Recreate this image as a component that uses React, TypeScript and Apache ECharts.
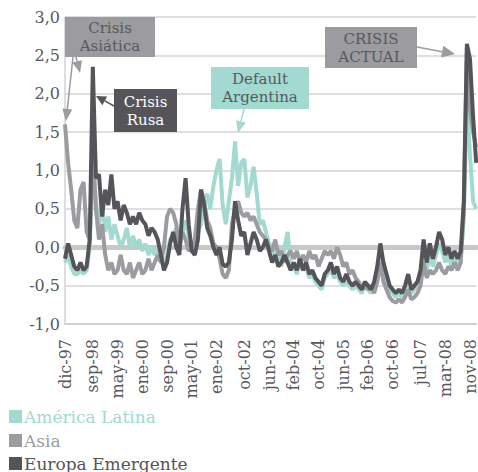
import React, { useEffect, useRef } from "react";
import * as echarts from "echarts";

const MONTHS = ["ene", "feb", "mar", "abr", "may", "jun", "jul", "ago", "sep", "oct", "nov", "dic"];
// monthly categories from dic-97 to ene-09
const categories: string[] = [];
for (let i = 0; i < 134; i++) {
  const mi = (11 + i) % 12;
  const yr = 1997 + Math.floor((11 + i) / 12);
  categories.push(MONTHS[mi] + "-" + String(yr % 100).padStart(2, "0"));
}
const tickLabels = [
  "dic-97", "sep-98", "may-99", "ene-00", "sep-00", "may-01", "ene-02", "oct-02", "jun-03",
  "feb-04", "oct-04", "jun-05", "feb-06", "oct-06", "jul-07", "mar-08", "nov-08",
];
const yTicks = [-1, -0.5, 0, 0.5, 1, 1.5, 2, 2.5, 3];
const seriesNames = ["América Latina", "Asia", "Europa Emergente"];

const americaLatina = [
  -0.2, -0.1, -0.25, -0.35, -0.35, -0.3, -0.35, -0.3, 0.0, 1.1,
  0.6, 0.3, 0.55, 0.2, 0.4, 0.1, 0.3, 0.15, 0.0, 0.1,
  0.25, 0.0, 0.15, 0.0, 0.1, -0.05, 0.05, -0.1, 0.0, -0.1,
  0.0, -0.15, -0.25, -0.1, 0.1, 0.15, 0.25, 0.1, 0.2, 0.35,
  0.15, 0.0, 0.05, 0.2, 0.3, 0.55, 0.7, 0.5, 0.8, 1.0,
  1.15, 0.55, 0.3, 0.6, 0.9, 1.38, 0.8, 1.1, 1.15, 0.65,
  0.8, 1.05, 0.7, 0.3, 0.35, 0.2, 0.05, 0.0, -0.15, -0.1,
  -0.25, 0.0, 0.2, -0.2, -0.25, -0.35, -0.2, -0.3, -0.25, -0.4,
  -0.35, -0.45, -0.5, -0.55, -0.4, -0.35, -0.3, -0.4, -0.35, -0.45,
  -0.5, -0.45, -0.5, -0.55, -0.5, -0.55, -0.6, -0.5, -0.55, -0.6,
  -0.5, -0.35, -0.05, -0.3, -0.45, -0.55, -0.6, -0.65, -0.6, -0.65,
  -0.55, -0.45, -0.6, -0.55, -0.5, -0.4, 0.0, -0.3, -0.1, -0.25,
  -0.1, 0.05, -0.05, -0.2, -0.1, -0.25, -0.15, -0.25, -0.15, 0.4,
  2.0, 1.2, 0.6, 0.5,
];

const asia = [
  1.6, 1.1, 0.75, 0.35, 0.25, 0.75, 0.85, 0.2, 0.1, 1.3,
  0.5, 0.1, 0.3, -0.1, -0.3, -0.2, -0.35, -0.3, -0.1, -0.3,
  -0.35, -0.2, -0.4, -0.3, -0.2, -0.35, -0.3, -0.15, -0.3, -0.2,
  -0.1, -0.2, 0.0, 0.4, 0.5, 0.45, 0.3, 0.0, 0.2, 0.1,
  -0.05, 0.0, 0.1, 0.5, 0.75, 0.6, 0.35, 0.25, 0.05, 0.0,
  -0.15, -0.35, -0.4, -0.3, 0.3, 0.5, 0.6, 0.45, 0.4, 0.45,
  0.35, 0.4, 0.3, 0.2, 0.15, 0.1, 0.0, -0.05, 0.1, -0.1,
  -0.05, -0.2, -0.1, -0.05, -0.15, -0.05, -0.2, -0.1, -0.2, -0.05,
  -0.15, -0.1, -0.25, -0.15, -0.05, -0.1, -0.05, -0.15, 0.0, -0.1,
  -0.25, -0.2, -0.35, -0.3, -0.4, -0.45, -0.55, -0.5, -0.55, -0.5,
  -0.6, -0.45, -0.2, -0.45, -0.55, -0.65, -0.7, -0.72, -0.68, -0.72,
  -0.65, -0.55, -0.68, -0.65, -0.6, -0.5, -0.2, -0.4, -0.3, -0.35,
  -0.3, -0.2, -0.3, -0.35, -0.25, -0.3, -0.2, -0.3, -0.2, 0.5,
  2.6, 1.8, 1.5, 1.3,
];

const europaEmergente = [
  -0.15, 0.05, -0.1, -0.25, -0.3, -0.2, -0.3, -0.25, 0.1, 2.35,
  0.9, 0.95, 0.4, 0.75, 0.55, 0.95, 0.5, 0.6, 0.35, 0.55,
  0.45, 0.3, 0.4, 0.3, 0.45, 0.35, 0.3, 0.15, 0.25, 0.2,
  0.1, -0.1, -0.3, -0.2, 0.05, 0.2, 0.0, -0.1, 0.5, 0.9,
  0.3, -0.05, -0.1, 0.1, 0.75, 0.55, 0.25, 0.15, 0.0, -0.1,
  0.0, -0.22, -0.25, -0.2, 0.1, 0.6, 0.35, 0.15, 0.2, -0.1,
  0.05, 0.2, 0.1, -0.05, 0.0, 0.1, -0.05, -0.2, -0.1, -0.25,
  -0.2, -0.1, -0.2, -0.3, -0.2, -0.3, -0.15, -0.3, -0.2, -0.35,
  -0.3, -0.4, -0.45, -0.5, -0.35, -0.3, -0.2, -0.35, -0.25, -0.4,
  -0.45, -0.35, -0.45, -0.5, -0.45, -0.5, -0.55, -0.45, -0.5, -0.55,
  -0.45, -0.25, 0.05, -0.2, -0.35, -0.5, -0.55, -0.6, -0.55, -0.6,
  -0.5, -0.35, -0.55, -0.5, -0.45, -0.3, 0.1, -0.2, 0.05, -0.15,
  0.0, 0.2, 0.1, -0.1, 0.0, -0.15, -0.05, -0.15, -0.05, 0.6,
  2.65, 2.45, 1.7, 1.1,
];

const TEAL = "#a2d9d1";
const GRAY = "#9b9ba0";
const DARK = "#555559";
const TEXT = "#58585c";
const FONT = "'DejaVu Serif', 'Liberation Serif', serif";
const colors = [TEAL, GRAY, DARK];

function arrow(x1: number, y1: number, x2: number, y2: number, color: string, len = 12, half = 5) {
  const dx = x2 - x1, dy = y2 - y1;
  const d = Math.sqrt(dx * dx + dy * dy);
  const ux = dx / d, uy = dy / d;
  const bx = x2 - ux * len, by = y2 - uy * len;
  const px = -uy * half, py = ux * half;
  return [
    { type: "line", shape: { x1, y1, x2: bx, y2: by }, style: { stroke: color, lineWidth: 1.5 }, z: 10 },
    { type: "polygon", shape: { points: [[x2, y2], [bx + px, by + py], [bx - px, by - py]] }, style: { fill: color }, z: 10 },
  ];
}

function box(x: number, y: number, w: number, h: number, fill: string, color: string, lines: string[]) {
  const lh = 18;
  const y0 = y + h / 2 - ((lines.length - 1) * lh) / 2;
  return [
    { type: "rect", shape: { x, y, width: w, height: h }, style: { fill }, z: 10 },
    ...lines.map((t, i) => ({
      type: "text", x: x + w / 2, y: y0 + i * lh, z: 11,
      style: { text: t, fill: color, font: `15px ${FONT}`, align: "center", verticalAlign: "middle" },
    })),
  ];
}

export default function App() {
  const ref = useRef<HTMLDivElement>(null);
  useEffect(() => {
    document.body.style.margin = "0";
    const chart = echarts.init(ref.current!, null, { renderer: "svg" });
    const labelIdx = tickLabels.map((t) => categories.indexOf(t));
    const legendTops = [408, 432, 455];
    chart.setOption({
      animation: false,
      grid: { left: 65, right: 0, top: 17, bottom: 148 },
      legend: seriesNames.map((n, i) => ({
        left: 9, top: legendTops[i], padding: 0, icon: "rect", itemWidth: 13, itemHeight: 13, itemGap: 0,
        textStyle: { fontFamily: FONT, fontSize: 17, color: colors[i], padding: [0, 0, 0, -3] },
        data: [n],
      })),
      xAxis: [
        {
          type: "category", data: categories, boundaryGap: false,
          axisLine: { onZero: false, lineStyle: { color: "#cfcfcf", width: 2 } },
          axisTick: { show: false },
          axisLabel: {
            rotate: 90, margin: 15, color: TEXT, fontFamily: FONT, fontSize: 16,
            interval: (i: number) => labelIdx.includes(i),
          },
        },
        {
          type: "category", data: categories, boundaryGap: false, position: "bottom",
          axisLine: { show: true, onZero: true, lineStyle: { color: "#c8c8c8", width: 5 } },
          axisTick: { show: false }, axisLabel: { show: false }, splitLine: { show: false },
        },
      ],
      yAxis: {
        type: "value", min: yTicks[0], max: yTicks[yTicks.length - 1], interval: 0.5,
        axisLine: { show: true, lineStyle: { color: "#d3d3d3", width: 1.5 } },
        axisTick: { show: false },
        axisLabel: {
          color: TEXT, fontFamily: FONT, fontSize: 16, margin: 5,
          formatter: (v: number) => v.toFixed(1).replace(".", ","),
        },
        splitLine: { lineStyle: { color: "#d5d5d5", width: 1.5 } },
      },
      series: [
        { name: seriesNames[0], type: "line", data: americaLatina, showSymbol: false, color: TEAL, lineStyle: { width: 4, color: TEAL } },
        { name: seriesNames[1], type: "line", data: asia, showSymbol: false, color: GRAY, lineStyle: { width: 4, color: GRAY } },
        { name: seriesNames[2], type: "line", data: europaEmergente, showSymbol: false, color: DARK, lineStyle: { width: 4, color: DARK } },
      ],
      graphic: [
        ...box(65, 17, 90, 40, GRAY, TEXT, ["Crisis", "Asiática"]),
        ...arrow(73, 57, 66, 121, GRAY, 12, 5),
        ...arrow(76, 57, 80, 73, GRAY, 12, 5),
        ...box(114, 89, 63, 43, DARK, "#ffffff", ["Crisis", "Rusa"]),
        ...arrow(114, 106, 96, 96, DARK, 10, 5),
        ...box(211, 67, 98, 42, TEAL, TEXT, ["Default", "Argentina"]),
        ...arrow(244, 109, 238, 133, TEAL, 12, 5),
        ...box(325, 27, 92, 41, GRAY, TEXT, ["CRISIS", "ACTUAL"]),
        ...arrow(417, 47, 455, 54, GRAY, 13, 6),
      ],
    });
    return () => chart.dispose();
  }, []);
  return <div ref={ref} style={{ width: 478, height: 472 }} />;
}
